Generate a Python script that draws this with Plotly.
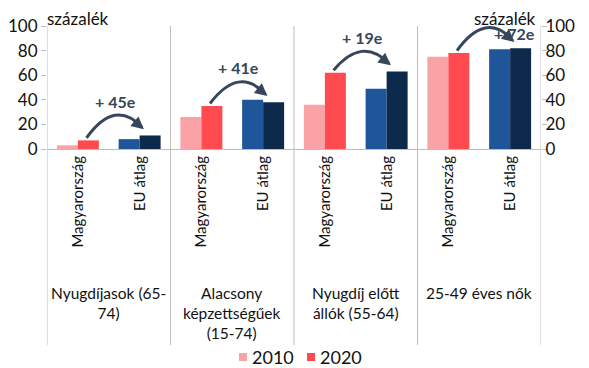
import plotly.graph_objects as go

groups = ["Nyugdíjasok (65-<br>74)", "Alacsony<br>képzettségűek<br>(15-74)",
          "Nyugdíj előtt<br>állók (55-64)", "25-49 éves nők"]
subcats = ["Magyarország", "EU átlag"]
changes = ["+ 45e", "+ 41e", "+ 19e", "+ 72e"]
years = ["2010", "2020"]

hu_2010 = [3, 26, 36, 75]
hu_2020 = [7, 35, 62, 78]
eu_2010 = [8, 40, 49, 81]
eu_2020 = [11, 38, 63, 82]

y_ticks = [0, 20, 40, 60, 80, 100]

PINK, RED, BLUE, NAVY = "#F9A3A6", "#FF4B50", "#1F5599", "#0D2A4C"
ARROW = "#37475A"
FONT = "Lato"

n = len(groups)
xs = list(range(2 * n))
v2010, v2020, c2010, c2020, ticktext = [], [], [], [], []
for g in range(n):
    v2010 += [hu_2010[g], eu_2010[g]]
    v2020 += [hu_2020[g], eu_2020[g]]
    c2010 += [PINK, BLUE]
    c2020 += [RED, NAVY]
    ticktext += subcats

fig = go.Figure()
fig.add_trace(go.Bar(x=xs, y=v2010, name=years[0], marker=dict(color=c2010, line_width=0)))
fig.add_trace(go.Bar(x=xs, y=v2020, name=years[1], marker=dict(color=c2020, line_width=0)))
fig.add_trace(go.Scatter(x=[0], y=[None], yaxis="y2", showlegend=False, hoverinfo="skip"))

off = 0.17
shapes, annots = [], []
for g in range(n):
    xh = 2 * g + off - 0.03
    xe = 2 * g + 1 + off - 0.1
    y0 = hu_2020[g] + 2
    y1 = eu_2020[g] + 5
    peak = max(y0, y1) + 11
    cx, cy = (xh + xe) / 2, 2 * peak - (y0 + y1) / 2
    shapes.append(dict(type="path", xref="x", yref="y",
                       path=f"M {xh},{y0} Q {cx},{cy} {xe - 0.03},{y1 + 1.5}",
                       line=dict(color=ARROW, width=3)))
    t = 0.8
    tx = (1 - t) ** 2 * xh + 2 * (1 - t) * t * cx + t ** 2 * xe
    ty = (1 - t) ** 2 * y0 + 2 * (1 - t) * t * cy + t ** 2 * y1
    annots.append(dict(x=xe, y=y1, ax=tx, ay=ty, xref="x", yref="y", axref="x", ayref="y",
                       showarrow=True, arrowhead=2, arrowsize=1, arrowwidth=2.5,
                       arrowcolor=ARROW, text=""))
    lx = (xh + xe) / 2
    ly = peak + 12
    if g == n - 1:
        lx, ly = xe, peak - 4
    annots.append(dict(x=lx, y=ly, xref="x", yref="y", text=f"<b>{changes[g]}</b>",
                       showarrow=False, font=dict(size=16, color=ARROW, family=FONT)))
    annots.append(dict(x=2 * g + 0.5, y=0.197, xref="x", yref="paper", yanchor="top",
                       text=groups[g], showarrow=False, align="center",
                       font=dict(size=15.5, color="#111", family=FONT)))

for b in [-0.5, 1.5, 3.5, 5.5, 7.5]:
    shapes.append(dict(type="line", xref="x", yref="paper", x0=b, x1=b, y0=0, y1=1,
                       line=dict(color="#BDBDBD", width=1)))

annots.append(dict(x=-0.004, y=1.022, xref="paper", yref="paper", xanchor="left", yanchor="middle",
                   text="százalék", showarrow=False, font=dict(size=17, color="#111", family=FONT)))
annots.append(dict(x=0.994, y=1.022, xref="paper", yref="paper", xanchor="right", yanchor="middle",
                   text="százalék", showarrow=False, font=dict(size=17, color="#111", family=FONT)))

# compact legend drawn below the plot (paper coordinates)
PW, PH = 494, 319
def px_x(p):
    return (p - 47) / PW
def px_y(p):
    return (345 - p) / PH
for col, name, sx in [(PINK, years[0], 239), (RED, years[1], 307)]:
    shapes.append(dict(type="rect", xref="paper", yref="paper",
                       x0=px_x(sx), x1=px_x(sx + 8), y0=px_y(361), y1=px_y(353),
                       fillcolor=col, line_width=0))
    annots.append(dict(x=px_x(sx + 11), y=px_y(357), xref="paper", yref="paper",
                       xanchor="left", yanchor="middle", text=name, showarrow=False,
                       font=dict(size=18, color="#111", family=FONT)))

# the page body adds an 8px offset; compensate by shrinking the figure
dom0 = (345 - 149) / 319
fig.update_layout(
    width=581, height=360,
    margin=dict(l=39, r=48, t=18, b=23, autoexpand=False),
    paper_bgcolor="white", plot_bgcolor="white", showlegend=False,
    barmode="group", bargap=0.32, bargroupgap=0,
    font=dict(family=FONT, size=15, color="#111"),
    xaxis=dict(range=[-0.5, 7.5], tickvals=xs, ticktext=ticktext, tickangle=-90,
               showline=True, linecolor="#BDBDBD", showgrid=False, zeroline=False,
               tickfont=dict(size=15, family=FONT), ticks="", automargin=False),
    yaxis=dict(domain=[dom0, 1], range=[0, 100], tickvals=y_ticks, showgrid=False,
               zeroline=False, showline=False, ticks="outside", ticklen=5,
               tickcolor="#BDBDBD", tickfont=dict(size=17, family=FONT), automargin=False),
    yaxis2=dict(domain=[dom0, 1], range=[0, 100], tickvals=y_ticks, overlaying="y",
                side="right", showgrid=False, zeroline=False, showline=False,
                ticks="outside", ticklen=5, tickcolor="#BDBDBD",
                tickfont=dict(size=17, family=FONT), anchor="x", automargin=False,
                ticklabelstandoff=-5),
    shapes=shapes, annotations=annots,
)
fig.write_html("out.html")
